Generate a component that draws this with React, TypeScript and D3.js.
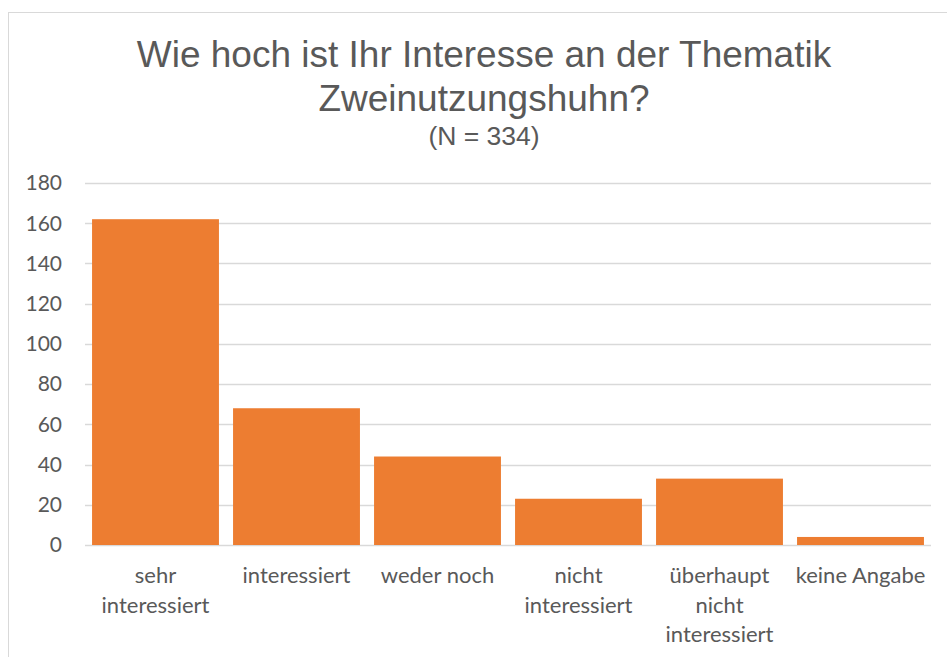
import React, { useEffect, useRef } from 'react';
import * as d3 from 'd3';

const categories = [
  ['sehr', 'interessiert'],
  ['interessiert'],
  ['weder noch'],
  ['nicht', 'interessiert'],
  ['überhaupt', 'nicht', 'interessiert'],
  ['keine Angabe'],
];
const values = [162, 68, 44, 23, 33, 4];
const yTicks = [0, 20, 40, 60, 80, 100, 120, 140, 160, 180];
const titleLines = ['Wie hoch ist Ihr Interesse an der Thematik', 'Zweinutzungshuhn?'];
const subtitle = '(N = 334)';

const App = () => {
  const svgRef = useRef<SVGSVGElement>(null);

  useEffect(() => {
    const width = 947;
    const height = 657;
    const svg = d3.select(svgRef.current);
    svg.selectAll('*').remove();
    svg.attr('width', width).attr('height', height);

    // chart frame
    svg.append('rect')
      .attr('x', 8.5).attr('y', 12.5)
      .attr('width', 1000).attr('height', 700)
      .attr('fill', '#fff')
      .attr('stroke', '#d9d9d9');

    const left = 85, right = 931, top = 183, bottom = 545;
    const labels = categories.map(c => c.join(' '));

    const x = d3.scaleBand()
      .domain(labels)
      .range([left, right])
      .paddingInner(0.1)
      .paddingOuter(0.05);

    const y = d3.scaleLinear().domain([0, 180]).range([bottom, top]);

    // gridlines
    svg.append('g')
      .selectAll('line')
      .data(yTicks)
      .enter().append('line')
      .attr('x1', left).attr('x2', right)
      .attr('y1', d => Math.round(y(d)) + 0.5)
      .attr('y2', d => Math.round(y(d)) + 0.5)
      .attr('stroke', '#d9d9d9')
      .attr('stroke-width', 1.3);

    // y tick labels
    svg.append('g')
      .selectAll('text')
      .data(yTicks)
      .enter().append('text')
      .attr('x', 62)
      .attr('y', d => y(d))
      .attr('dy', '0.35em')
      .attr('text-anchor', 'end')
      .attr('font-family', 'Lato, "Open Sans", sans-serif')
      .attr('font-size', 21)
      .attr('fill', '#595959')
      .text(d => d);

    // bars
    svg.append('g')
      .selectAll('rect')
      .data(values)
      .enter().append('rect')
      .attr('x', (d, i) => x(labels[i]) as number)
      .attr('y', d => y(d))
      .attr('width', x.bandwidth())
      .attr('height', d => bottom - y(d))
      .attr('fill', '#ed7d31');

    // x labels
    const xl = svg.append('g')
      .selectAll('text')
      .data(categories)
      .enter().append('text')
      .attr('x', (d, i) => (x(labels[i]) as number) + x.bandwidth() / 2)
      .attr('y', 583)
      .attr('text-anchor', 'middle')
      .attr('font-family', 'Lato, "Open Sans", sans-serif')
      .attr('font-size', 22)
      .attr('fill', '#595959');
    xl.each(function (d, i) {
      const t = d3.select(this);
      d.forEach((line, j) => {
        t.append('tspan')
          .attr('x', (x(labels[i]) as number) + x.bandwidth() / 2)
          .attr('dy', j === 0 ? 0 : 29.5)
          .text(line);
      });
    });

    // title
    const cx = 484;
    titleLines.forEach((line, i) => {
      svg.append('text')
        .attr('x', cx)
        .attr('y', 67 + i * 44)
        .attr('text-anchor', 'middle')
        .attr('font-family', '"Liberation Sans", Arial, sans-serif')
        .attr('font-size', 37)
        .attr('fill', '#595959')
        .text(line);
    });
    svg.append('text')
      .attr('x', cx)
      .attr('y', 145)
      .attr('text-anchor', 'middle')
      .attr('font-family', '"Liberation Sans", Arial, sans-serif')
      .attr('font-size', 26.5)
      .attr('fill', '#595959')
      .text(subtitle);
  }, []);

  return (
    <svg ref={svgRef} style={{ position: 'absolute', left: 0, top: 0 }}></svg>
  );
};

export default App;
